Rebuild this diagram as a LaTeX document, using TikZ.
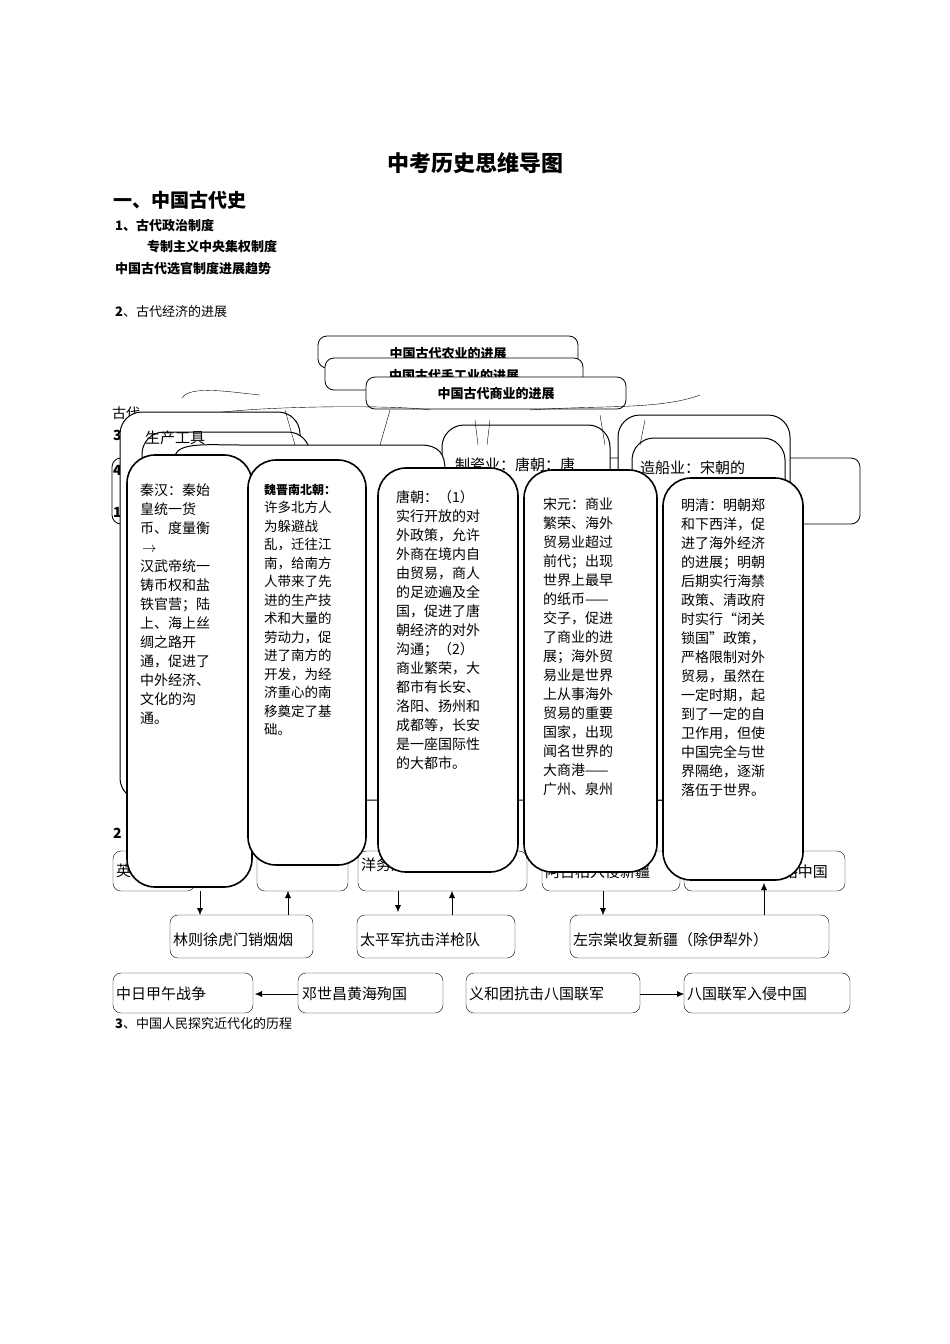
\documentclass[tikz,border=0pt]{standalone}
\usepackage{fontspec}
\setmainfont{Noto Sans CJK SC}
\usetikzlibrary{arrows.meta}
\begin{document}
\begin{tikzpicture}[x=1pt,y=-1pt,
  rb/.style={draw,thick,fill=white,rounded corners=9pt},
  tall/.style={draw,line width=1.6pt,fill=white,rounded corners=28pt},
  bx/.style={draw,fill=white,rounded corners=8pt},
  tx/.style={font=\fontsize{14}{19}\selectfont,align=left,anchor=north west,inner sep=0},
  lb/.style={font=\fontsize{15}{18}\selectfont,anchor=west,inner sep=0},
  ar/.style={-{Latex[length=7pt,width=6pt]}}]
\useasboundingbox (0,0) rectangle (950,1344);
\node[font=\fontsize{22}{24}\selectfont\bfseries] (title) at (475,163) {中考历史思维导图};
\node[font=\fontsize{19}{22}\selectfont\bfseries,anchor=west,inner sep=0] (h1) at (113,200) {一、中国古代史};
\node[font=\fontsize{13}{15}\selectfont\bfseries,anchor=west,inner sep=0] (h2) at (115,226) {1、古代政治制度};
\node[font=\fontsize{13}{15}\selectfont\bfseries,anchor=west,inner sep=0] (h3) at (147,247) {专制主义中央集权制度};
\node[font=\fontsize{13}{15}\selectfont\bfseries,anchor=west,inner sep=0] (h4) at (115,269) {中国古代选官制度进展趋势};
\node[font=\fontsize{13}{15}\selectfont,anchor=west,inner sep=0] (h5) at (115,312) {\textbf{2}、古代经济的进展};
% top boxes
\draw[rb] (318,336) rectangle (578,368);
\node[font=\fontsize{13}{15}\selectfont\bfseries] (agr) at (448,354) {中国古代农业的进展};
\draw[rb] (325,358) rectangle (583,390);
\node[font=\fontsize{13}{15}\selectfont\bfseries] (hand) at (454,376) {中国古代手工业的进展};
\draw[rb] (366,377) rectangle (626,409);
\node[font=\fontsize{13}{15}\selectfont\bfseries] (com) at (496,394) {中国古代商业的进展};
% braces
\draw (182,398) .. controls (190,385) and (230,392) .. (260,395);
\draw (200,415) .. controls (260,405) and (400,405) .. (430,410);
\draw (530,410) .. controls (600,405) and (660,410) .. (700,395);
\node[lb,font=\fontsize{14}{16}\selectfont] (gu) at (112,413) {古代};
\node[lb,font=\fontsize{14}{16}\selectfont\bfseries] (n3) at (113,435) {3};
% background boxes
\draw[rb] (112,458) rectangle (860,524);
\node[lb,font=\fontsize{14}{16}\selectfont\bfseries] (n4) at (113,470) {4};
\node[lb,font=\fontsize{14}{16}\selectfont\bfseries] (n1) at (113,512) {1};
\draw[tall,line width=1pt,rounded corners=22pt] (120,412) rectangle (300,800);
\draw[tall,line width=1pt,rounded corners=22pt] (142,432) rectangle (310,790);
\node[lb] (sc) at (145,438) {生产工具};
\draw[tall,line width=1pt,rounded corners=22pt] (442,425) rectangle (610,800);
\node[lb] (tc) at (455,465) {制瓷业：唐朝：唐};
\draw[tall,line width=1pt,rounded corners=22pt] (618,415) rectangle (790,800);
\draw[tall,line width=1pt,rounded corners=22pt] (632,438) rectangle (785,800);
\node[lb] (zc) at (640,468) {造船业：宋朝的};
\draw[line width=1pt,fill=white] (175,455) .. controls (180,442) and (210,445) .. (240,445) -- (420,445) .. controls (440,445) and (445,455) .. (445,470) -- (445,800) -- (175,800) -- cycle;
\draw (285,410) -- (295,445) (390,410) -- (380,445);
\draw (475,420) -- (478,445) (490,420) -- (487,445);
\draw (600,415) -- (605,445) (645,420) -- (640,445);
\node[lb,font=\fontsize{14}{16}\selectfont\bfseries] (n2) at (113,833) {2};
% bottom row 1
\draw[bx] (113,851) rectangle (195,891);
\node[lb] (b1) at (116,871) {英国发动鸦片战争};
\draw[bx] (257,851) rectangle (348,891);
\draw[bx] (358,851) rectangle (527,891);
\node[lb] (b3) at (361,865) {洋务运动};
\draw[bx] (542,851) rectangle (680,891);
\node[lb] (b4) at (545,872) {阿古柏入侵新疆};
\draw[bx] (684,851) rectangle (845,891);
\node[lb,anchor=east] (b5) at (828,872) {沙俄侵略中国};
% tall boxes
\draw[tall] (127,455) rectangle (252,887);
\node[tx] (t1) at (140,484) {秦汉：秦始\\皇统一货\\币、度量衡\\\hspace{2pt}$\rightarrow$\\汉武帝统一\\铸币权和盐\\铁官营；陆\\上、海上丝\\绸之路开\\通，促进了\\中外经济、\\文化的沟\\通。};
\draw[tall] (248,460) rectangle (366,865);
\node[tx,font=\fontsize{13.5}{18.5}\selectfont] (t2) at (264,484) {{\fontsize{12}{14}\selectfont\bfseries 魏晋南北朝：}\\许多北方人\\为躲避战\\乱，迁往江\\南，给南方\\人带来了先\\进的生产技\\术和大量的\\劳动力，促\\进了南方的\\开发，为经\\济重心的南\\移奠定了基\\础。};
\draw[tall] (378,468) rectangle (518,872);
\node[tx] (t3) at (396,490) {唐朝：（1）\\实行开放的对\\外政策，允许\\外商在境内自\\由贸易，商人\\的足迹遍及全\\国，促进了唐\\朝经济的对外\\沟通；（2）\\商业繁荣，大\\都市有长安、\\洛阳、扬州和\\成都等，长安\\是一座国际性\\的大都市。};
\draw[tall] (524,470) rectangle (657,872);
\node[tx] (t4) at (543,497) {宋元：商业\\繁荣、海外\\贸易业超过\\前代；出现\\世界上最早\\的纸币——\\交子，促进\\了商业的进\\展；海外贸\\易业是世界\\上从事海外\\贸易的重要\\国家，出现\\闻名世界的\\大商港——\\广州、泉州};
\draw[tall] (663,478) rectangle (803,880);
\node[tx] (t5) at (681,499) {明清：明朝郑\\和下西洋，促\\进了海外经济\\的进展；明朝\\后期实行海禁\\政策、清政府\\时实行“闭关\\锁国”政策，\\严格限制对外\\贸易，虽然在\\一定时期，起\\到了一定的自\\卫作用，但使\\中国完全与世\\界隔绝，逐渐\\落伍于世界。};
% bottom row 2
\draw[bx] (170,915) rectangle (313,958);
\node[lb] (c1) at (173,940) {林则徐虎门销烟烟};
\draw[bx] (357,915) rectangle (515,958);
\node[lb] (c2) at (360,940) {太平军抗击洋枪队};
\draw[bx] (570,915) rectangle (829,958);
\node[lb] (c3) at (573,940) {左宗棠收复新疆（除伊犁外）};
\draw[ar] (200,891) -- (200,915);
\draw[ar] (288,915) -- (288,891);
\draw[ar] (398,891) -- (398,912);
\draw[ar] (452,915) -- (452,891);
\draw[ar] (603,891) -- (603,915);
\draw[ar] (764,915) -- (764,883);
% row 3
\draw[bx] (113,973) rectangle (253,1013);
\node[lb] (d1) at (116,994) {中日甲午战争};
\draw[bx] (298,973) rectangle (443,1013);
\node[lb] (d2) at (302,994) {邓世昌黄海殉国};
\draw[bx] (466,973) rectangle (640,1013);
\node[lb] (d3) at (469,994) {义和团抗击八国联军};
\draw[bx] (684,973) rectangle (850,1013);
\node[lb] (d4) at (687,994) {八国联军入侵中国};
\draw[ar] (298,994) -- (255,994);
\draw[ar] (640,994) -- (684,994);
\node[lb,font=\fontsize{13}{15}\selectfont] (h6) at (115,1024) {\textbf{3}、中国人民探究近代化的历程};
\end{tikzpicture}
\end{document}
